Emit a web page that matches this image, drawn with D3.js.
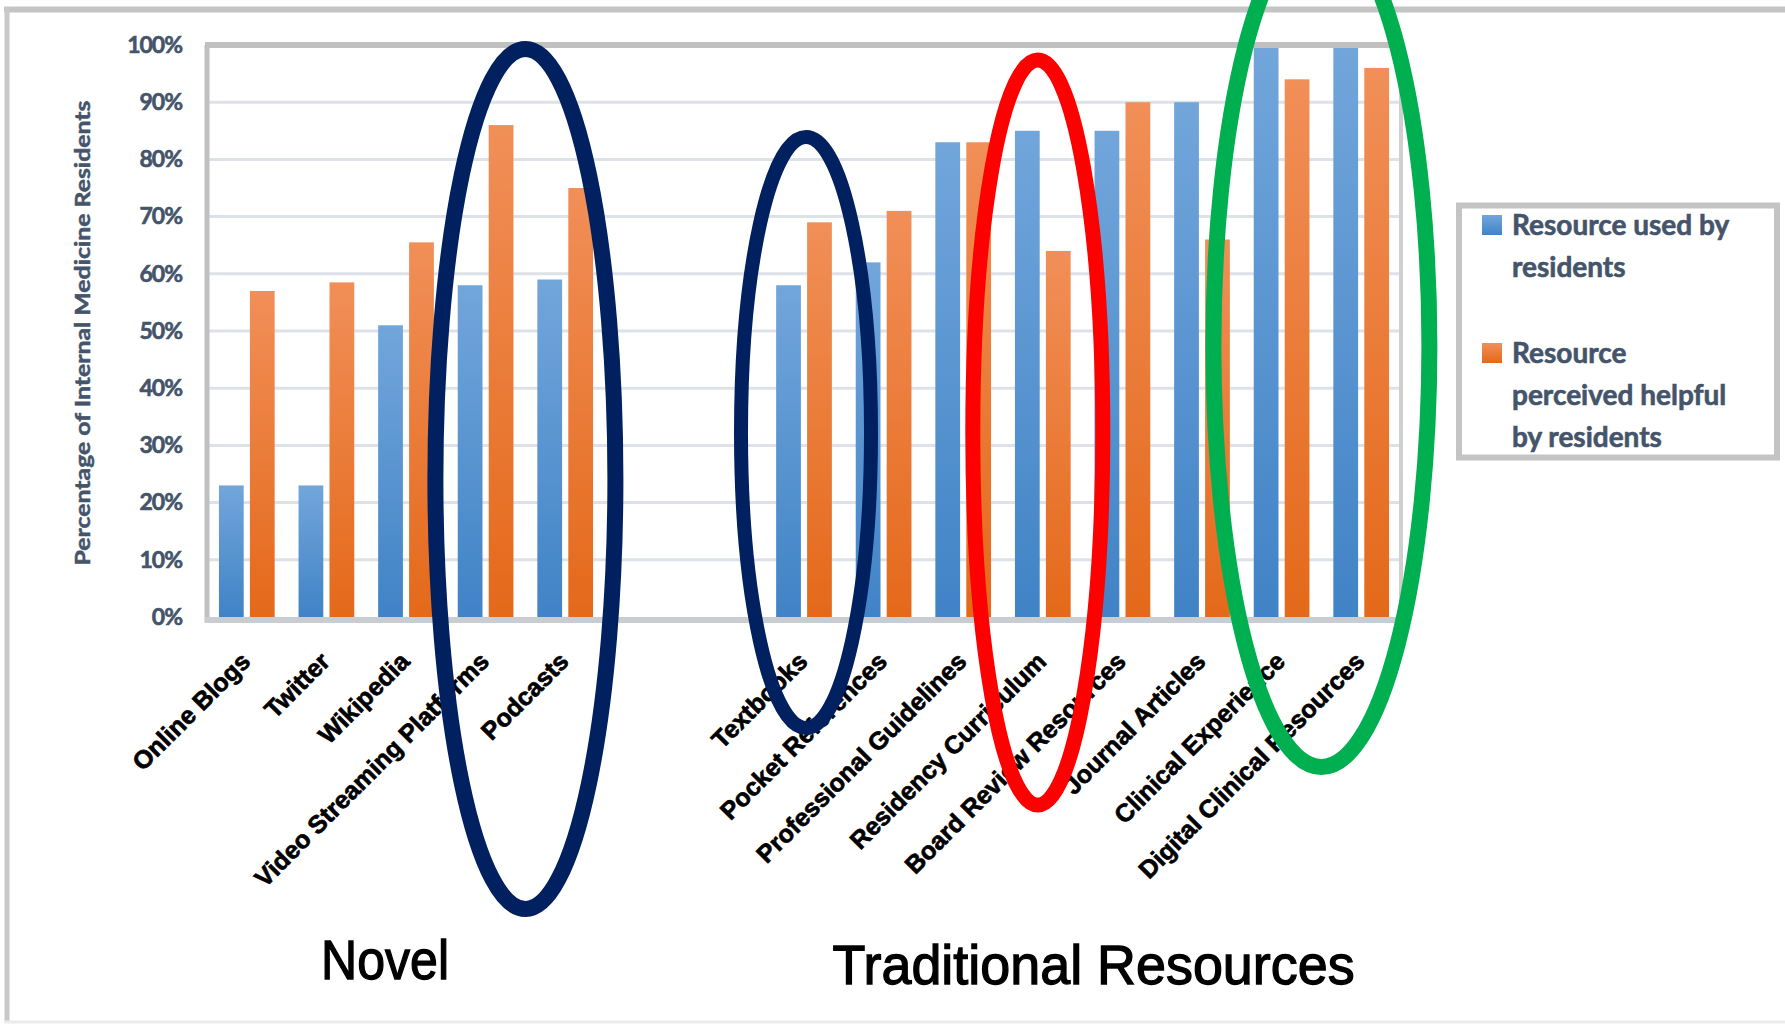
<!DOCTYPE html>
<html>
<head>
<meta charset="utf-8">
<script src="https://cdn.jsdelivr.net/npm/d3@7"></script>
<style>
    html, body { margin: 0; padding: 0; background: #ffffff; }
    svg { display: block; }
</style>
</head>
<body>
<div id="chart"></div>
<script>
// data
const NOVEL_CATEGORIES = ['Online Blogs', 'Twitter', 'Wikipedia', 'Video Streaming Platforms', 'Podcasts'];
const GAP_SLOTS = ['gap-1', 'gap-2'];
const TRADITIONAL_CATEGORIES = ['Textbooks', 'Pocket References', 'Professional Guidelines', 'Residency Curriculum',
    'Board Review Resources', 'Journal Articles', 'Clinical Experience', 'Digital Clinical Resources'];

const USED_VALUES = [23, 23, 51, 58, 59, 58, 62, 83, 85, 85, 90, 100, 100];
const HELPFUL_VALUES = [57, 58.5, 65.5, 86, 75, 69, 71, 83, 64, 90, 66, 94, 96];

const Y_TICKS = [0, 10, 20, 30, 40, 50, 60, 70, 80, 90, 100];
const SERIES = ['used', 'helpful'];
const LEGEND_LINES = [['Resource used by', 'residents'], ['Resource', 'perceived helpful', 'by residents']];
const GROUP_TITLES = ['Novel', 'Traditional Resources'];
const Y_TITLE = 'Percentage of Internal Medicine Residents';

const WIDTH = 1785, HEIGHT = 1024;
const PLOT = { left: 207, right: 1401, top: 45, bottom: 617 };
const TEXT_GREY = '#44546a';

let allCategories = NOVEL_CATEGORIES.concat(TRADITIONAL_CATEGORIES);
let rows = allCategories.map((name, i) => ({ name, used: USED_VALUES[i], helpful: HELPFUL_VALUES[i] }));

let svg = d3.select('#chart').append('svg')
    .attr('width', WIDTH)
    .attr('height', HEIGHT);

let defs = svg.append('defs');
function addGradient(id, top, bottom) {
    let g = defs.append('linearGradient').attr('id', id)
        .attr('x1', 0).attr('y1', 0).attr('x2', 0).attr('y2', 1);
    g.append('stop').attr('offset', '0%').attr('stop-color', top);
    g.append('stop').attr('offset', '100%').attr('stop-color', bottom);
}
addGradient('grad-used', '#72a6db', '#4083c6');
addGradient('grad-helpful', '#f18f58', '#e4691a');
const FILLS = { used: 'url(#grad-used)', helpful: 'url(#grad-helpful)' };

let x = d3.scaleBand()
    .domain(NOVEL_CATEGORIES.concat(GAP_SLOTS, TRADITIONAL_CATEGORIES))
    .range([PLOT.left, PLOT.right]);
let groupWidth = x.step() * 0.7;
let x1 = d3.scaleBand().domain(SERIES).range([0, groupWidth]).paddingInner(0.2);
let y = d3.scaleLinear().domain([0, 100]).range([PLOT.bottom, PLOT.top]);

// outer picture border
svg.append('line').attr('x1', 4).attr('x2', WIDTH).attr('y1', 9.5).attr('y2', 9.5)
    .attr('stroke', '#c4c4c4').attr('stroke-width', 6);
svg.append('line').attr('x1', 7).attr('x2', 7).attr('y1', 7).attr('y2', 1022)
    .attr('stroke', '#c8c8c8').attr('stroke-width', 5);
svg.append('line').attr('x1', 4).attr('x2', WIDTH).attr('y1', 1022).attr('y2', 1022)
    .attr('stroke', '#ececec').attr('stroke-width', 3);

// gridlines
svg.append('g').selectAll('line')
    .data(Y_TICKS.filter(d => d > 0 && d < 100))
    .join('line')
    .attr('x1', PLOT.left).attr('x2', PLOT.right)
    .attr('y1', d => y(d)).attr('y2', d => y(d))
    .attr('stroke', '#dde2e8').attr('stroke-width', 3);

// bars
let groups = svg.append('g').selectAll('g')
    .data(rows)
    .join('g')
    .attr('transform', d => `translate(${x(d.name) + (x.step() - groupWidth) / 2},0)`);
groups.selectAll('rect')
    .data(d => SERIES.map(key => ({ key, value: d[key] })))
    .join('rect')
    .attr('x', d => x1(d.key))
    .attr('width', x1.bandwidth())
    .attr('y', d => y(d.value))
    .attr('height', d => y(0) - y(d.value))
    .attr('fill', d => FILLS[d.key]);

// plot frame
svg.append('line').attr('x1', PLOT.left - 2).attr('x2', PLOT.right + 2).attr('y1', y(100)).attr('y2', y(100))
    .attr('stroke', '#c0c0c0').attr('stroke-width', 6);
svg.append('line').attr('x1', PLOT.left).attr('x2', PLOT.left).attr('y1', y(100)).attr('y2', y(0) + 6)
    .attr('stroke', '#c0c0c0').attr('stroke-width', 5);
svg.append('line').attr('x1', PLOT.right).attr('x2', PLOT.right).attr('y1', y(100)).attr('y2', y(0) + 6)
    .attr('stroke', '#cfcfcf').attr('stroke-width', 4);
svg.append('line').attr('x1', PLOT.left - 2).attr('x2', PLOT.right + 2).attr('y1', y(0) + 3).attr('y2', y(0) + 3)
    .attr('stroke', '#c9ccd1').attr('stroke-width', 6);

// y axis labels
let yAxis = svg.append('g')
    .attr('transform', `translate(${PLOT.left - 25},0)`)
    .call(d3.axisLeft(y).tickValues(Y_TICKS).tickFormat(d => d + '%').tickSize(0).tickPadding(0));
yAxis.select('.domain').remove();
yAxis.selectAll('text')
    .attr('fill', TEXT_GREY)
    .attr('stroke', TEXT_GREY)
    .attr('stroke-width', 0.6)
    .style('font-family', 'Lato, "Open Sans", sans-serif')
    .style('font-weight', 'bold')
    .style('font-size', '23px')
    .style('letter-spacing', '-1px');

svg.append('text')
    .attr('transform', `translate(90,${(y(0) + y(100)) / 2 + 2}) rotate(-90)`)
    .attr('text-anchor', 'middle')
    .attr('textLength', 465)
    .attr('lengthAdjust', 'spacingAndGlyphs')
    .attr('fill', TEXT_GREY)
    .attr('stroke', TEXT_GREY)
    .attr('stroke-width', 0.5)
    .style('font-family', 'Lato, "Open Sans", sans-serif')
    .style('font-weight', 'bold')
    .style('font-size', '21px')
    .text(Y_TITLE);

// category labels, rotated
svg.append('g').selectAll('text')
    .data(allCategories)
    .join('text')
    .attr('transform', d => `translate(${x(d) + x.bandwidth() / 2 + 5},663) rotate(-45)`)
    .attr('text-anchor', 'end')
    .attr('fill', '#000000')
    .attr('stroke', '#000000')
    .attr('stroke-width', 0.7)
    .style('font-family', '"Liberation Sans", Arial, sans-serif')
    .style('font-weight', 'bold')
    .style('font-size', '25px')
    .text(d => d);

// group titles under the axis
let novelMid = (x(NOVEL_CATEGORIES[0]) + x(NOVEL_CATEGORIES[NOVEL_CATEGORIES.length - 1]) + x.bandwidth()) / 2;
let tradMid = (x(TRADITIONAL_CATEGORIES[0]) + x(TRADITIONAL_CATEGORIES[TRADITIONAL_CATEGORIES.length - 1]) + x.bandwidth()) / 2;
[[GROUP_TITLES[0], novelMid - 21, 979, 128], [GROUP_TITLES[1], tradMid + 11, 984, 522]].forEach(([label, cx, baseline, len]) => {
    svg.append('text')
        .attr('x', cx)
        .attr('y', baseline)
        .attr('text-anchor', 'middle')
        .attr('textLength', len)
        .attr('lengthAdjust', 'spacingAndGlyphs')
        .attr('fill', '#000000')
        .attr('stroke', '#000000')
        .attr('stroke-width', 1.3)
        .style('font-family', '"Liberation Sans", Arial, sans-serif')
        .style('font-size', '56px')
        .text(label);
});

// legend
let legend = svg.append('g');
legend.append('rect')
    .attr('x', 1459).attr('y', 205.5).attr('width', 318).attr('height', 252)
    .attr('fill', '#ffffff').attr('stroke', '#c4c4c4').attr('stroke-width', 6);
let legendTop = [215, 343];
SERIES.forEach((key, i) => {
    legend.append('rect')
        .attr('x', 1482).attr('y', legendTop[i]).attr('width', 20).attr('height', 20)
        .attr('fill', FILLS[key]);
    let t = legend.append('text')
        .attr('x', 1512)
        .attr('y', legendTop[i] + 20)
        .attr('fill', TEXT_GREY)
        .attr('stroke', TEXT_GREY)
        .attr('stroke-width', 0.6)
        .style('font-family', 'Lato, "Open Sans", sans-serif')
        .style('font-weight', 'bold')
        .style('font-size', '28px');
    t.selectAll('tspan')
        .data(LEGEND_LINES[i])
        .join('tspan')
        .attr('x', 1512)
        .attr('dy', (d, j) => j === 0 ? 0 : 42)
        .text(d => d);
});

// hand-drawn highlight ellipses over the chart
const HIGHLIGHTS = [
    { cats: ['Video Streaming Platforms', 'Podcasts'], dx: 0, top: 49, bottom: 909, rx: 90, color: '#002060', width: 16 },
    { cats: ['Textbooks'], dx: 2, top: 137, bottom: 728, rx: 65, color: '#002060', width: 14 },
    { cats: ['Residency Curriculum'], dx: -5, top: 60, bottom: 805, rx: 65, color: '#ff0000', width: 15 },
    { cats: ['Clinical Experience', 'Digital Clinical Resources'], dx: 0, top: -75, bottom: 767, rx: 108, color: '#00b050', width: 16 },
];
svg.append('g').selectAll('ellipse')
    .data(HIGHLIGHTS)
    .join('ellipse')
    .attr('cx', d => d3.mean(d.cats, c => x(c) + x.bandwidth() / 2) + d.dx)
    .attr('cy', d => (d.top + d.bottom) / 2)
    .attr('rx', d => d.rx)
    .attr('ry', d => (d.bottom - d.top) / 2)
    .attr('fill', 'none')
    .attr('stroke', d => d.color)
    .attr('stroke-width', d => d.width);
</script>
</body>
</html>
